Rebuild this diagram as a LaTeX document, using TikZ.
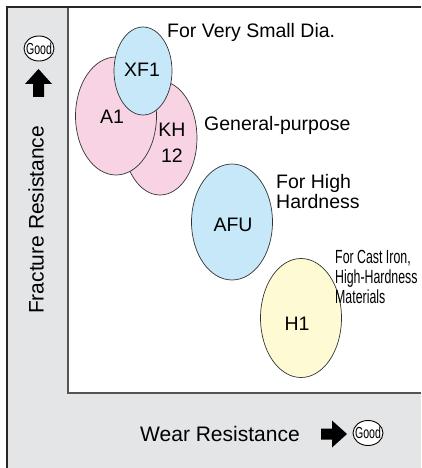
\documentclass[tikz,border=0pt]{standalone}
\usepackage{fontspec}
\setmainfont{Liberation Sans}
\newfontfamily\narrowfont[FakeStretch=0.65]{Liberation Sans}
\newfontfamily\goodfont[FakeStretch=0.66]{Liberation Sans}
\usetikzlibrary{shapes.geometric}
\definecolor{panelgray}{HTML}{E4E5E7}
\definecolor{framegray}{HTML}{555555}
\definecolor{pinkfill}{HTML}{F8D3E3}
\definecolor{bluefill}{HTML}{C6E8F8}
\definecolor{yellowfill}{HTML}{FEFAD3}
\begin{document}
\begin{tikzpicture}[x=1pt,y=-1pt,
    grade/.style={ellipse,draw=black!80,line width=0.7pt,inner sep=0pt},
    tag/.style={font=\fontsize{19.5}{20}\selectfont,inner sep=0pt},
    note/.style={tag,anchor=north west,align=left},
    goodmark/.style={ellipse,draw=black,fill=white,line width=0.9pt,
      minimum width=30pt,minimum height=25pt,inner sep=-4pt,
      font=\goodfont\fontsize{16}{16}\selectfont}]
  \useasboundingbox (0,0) rectangle (421,468);
  % panel and plot area
  \fill[panelgray] (7,7) rectangle (421,468);
  \fill[white] (68,7) rectangle (421,393);
  \draw[line width=1.2pt,framegray] (68,7) -- (68,393) -- (421,393);
  \draw[line width=2pt,black!85] (7,468) -- (7,7) -- (421,7);
  % grades
  \node[grade,fill=pinkfill,minimum width=74pt,minimum height=114pt] (kh12) at (160,138) {};
  \node[grade,fill=pinkfill,minimum width=81pt,minimum height=118pt] (a1) at (116,116) {};
  \node[grade,fill=bluefill,minimum width=58pt,minimum height=88pt] (xf1) at (143,71) {};
  \node[grade,fill=bluefill,minimum width=81pt,minimum height=116pt] (afu) at (232,222) {};
  \node[grade,fill=yellowfill,minimum width=81pt,minimum height=119pt] (h1) at (301,318) {};
  \node[tag] (a1txt) at (112,117) {A1};
  \node[tag] (xf1txt) at (142,70) {XF1};
  \node[tag,align=center,font=\fontsize{19.5}{26}\selectfont] (kh12txt) at (172,143) {KH\\12};
  \node[tag] (afutxt) at (233,225) {AFU};
  \node[tag] (h1txt) at (297,323.5) {H1};
  % notes
  \node[tag,anchor=base west] (smalldia) at (167,38) {For Very Small Dia.};
  \node[tag,anchor=base west] (general) at (204,130) {General-purpose};
  \node[note] (highhard) at (276,174) {For High\\Hardness};
  \node[note,font=\narrowfont\fontsize{19}{20}\selectfont] (castiron) at (335,250)
    {For Cast Iron,\\High-Hardness\\Materials};
  % axes
  \node[font=\fontsize{21}{21}\selectfont,rotate=90,inner sep=0pt] (ylabel) at (36,220) {Fracture Resistance};
  \node[font=\fontsize{21}{21}\selectfont,inner sep=0pt,anchor=base west] (xlabel) at (140,441) {Wear Resistance};
  \node[goodmark] (ygood) at (39,48.5) {Good};
  \node[goodmark] (xgood) at (368,433) {Good};
  \fill (38.5,69) -- (52,84) -- (44,84) -- (44,97) -- (33,97) -- (33,84) -- (25,84) -- cycle;
  \fill (347,434) -- (332,420.5) -- (332,428.5) -- (321,428.5) -- (321,439.5)
    -- (332,439.5) -- (332,447.5) -- cycle;
\end{tikzpicture}
\end{document}
